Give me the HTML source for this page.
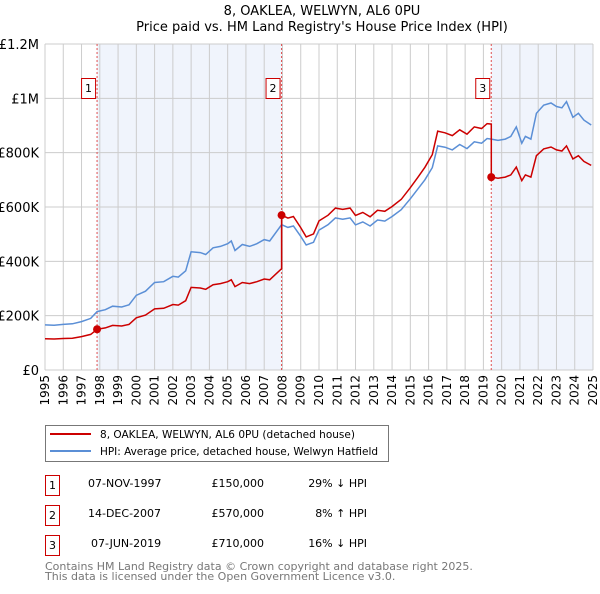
<!DOCTYPE html>
<html><head><meta charset="utf-8"><style>
body{margin:0;background:#fff;font-family:"DejaVu Sans","Liberation Sans",sans-serif;}
svg text{font-family:"DejaVu Sans","Liberation Sans",sans-serif;}
</style></head><body>
<svg id="c" width="600" height="590" xmlns="http://www.w3.org/2000/svg">
<text x="322" y="15" text-anchor="middle" font-size="13">8, OAKLEA, WELWYN, AL6 0PU</text>
<text x="322" y="31" text-anchor="middle" font-size="13">Price paid vs. HM Land Registry's House Price Index (HPI)</text>
<g id="plot"></g>
<g>
<rect x="45.5" y="425.5" width="343" height="36" fill="#fff" stroke="#777"/>
<line x1="50" y1="434" x2="91" y2="434" stroke="#cc0000" stroke-width="2"/>
<text x="100" y="438" font-size="10.5" textLength="255">8, OAKLEA, WELWYN, AL6 0PU (detached house)</text>
<line x1="50" y1="451" x2="91" y2="451" stroke="#5b8fd6" stroke-width="2"/>
<text x="100" y="455" font-size="10.5" textLength="278">HPI: Average price, detached house, Welwyn Hatfield</text>
</g>
<g font-size="11">
<rect x="45.5" y="475.5" width="14" height="20" fill="#fff" stroke="#cc0000"/><text x="52.5" y="489" text-anchor="middle">1</text>
<text x="88" y="487">07-NOV-1997</text><text x="264" y="487" text-anchor="end">£150,000</text><text x="367" y="487" text-anchor="end">29% ↓ HPI</text>
<rect x="45.5" y="505.5" width="14" height="20" fill="#fff" stroke="#cc0000"/><text x="52.5" y="519" text-anchor="middle">2</text>
<text x="88" y="517">14-DEC-2007</text><text x="264" y="517" text-anchor="end">£570,000</text><text x="367" y="517" text-anchor="end">8% ↑ HPI</text>
<rect x="45.5" y="535.5" width="14" height="20" fill="#fff" stroke="#cc0000"/><text x="52.5" y="549" text-anchor="middle">3</text>
<text x="91" y="547">07-JUN-2019</text><text x="264" y="547" text-anchor="end">£710,000</text><text x="367" y="547" text-anchor="end">16% ↓ HPI</text>
</g>
<text x="45" y="570" font-size="11" fill="#777">Contains HM Land Registry data © Crown copyright and database right 2025.</text>
<text x="45" y="580" font-size="11" fill="#777">This data is licensed under the Open Government Licence v3.0.</text>
</svg>
<script>
const hpiDates=[1995,1995.5,1996,1996.5,1997,1997.5,1997.85,1998.3,1998.7,1999.2,1999.6,2000,2000.5,2001,2001.5,2002,2002.3,2002.7,2003,2003.5,2003.8,2004.2,2004.6,2005,2005.2,2005.4,2005.8,2006.2,2006.6,2007,2007.3,2007.95,2008.3,2008.6,2009.0,2009.3,2009.7,2010.0,2010.5,2010.9,2011.3,2011.7,2012.0,2012.4,2012.8,2013.2,2013.6,2014.0,2014.5,2015.0,2015.4,2015.8,2016.2,2016.5,2016.9,2017.3,2017.7,2018.1,2018.5,2018.9,2019.2,2019.43,2019.8,2020.2,2020.5,2020.8,2021.1,2021.3,2021.6,2021.9,2022.3,2022.7,2023.0,2023.3,2023.55,2023.9,2024.2,2024.5,2024.9];
const hpiValues=[166,165,168,170,178,190,215,222,235,232,240,275,290,322,325,345,342,365,435,432,425,450,455,465,475,440,462,455,465,480,475,535,525,530,492,460,470,515,535,560,555,560,534,545,530,552,548,565,590,630,665,700,745,825,820,810,830,815,840,835,852,850,845,850,860,895,835,860,850,945,975,983,970,965,988,930,945,920,902];
const redDates=[1995,1995.5,1996,1996.5,1997,1997.5,1997.85,1998.3,1998.7,1999.2,1999.6,2000,2000.5,2001,2001.5,2002,2002.3,2002.7,2003,2003.5,2003.8,2004.2,2004.6,2005,2005.2,2005.4,2005.8,2006.2,2006.6,2007,2007.3,2007.95,2007.95,2008.3,2008.6,2009.0,2009.3,2009.7,2010.0,2010.5,2010.9,2011.3,2011.7,2012.0,2012.4,2012.8,2013.2,2013.6,2014.0,2014.5,2015.0,2015.4,2015.8,2016.2,2016.5,2016.9,2017.3,2017.7,2018.1,2018.5,2018.9,2019.2,2019.43,2019.43,2019.8,2020.2,2020.5,2020.8,2021.1,2021.3,2021.6,2021.9,2022.3,2022.7,2023.0,2023.3,2023.55,2023.9,2024.2,2024.5,2024.9];
const redValues=[115,114,116,117,123,131,150,155,164,162,168,192,202,225,227,241,239,255,304,302,297,314,318,325,332,307,322,318,325,335,332,373,570,559,565,524,490,501,549,570,596,591,596,569,580,564,588,584,602,628,671,708,746,793,879,873,863,884,868,895,889,907,905,710,706,710,718,747,697,718,710,789,814,821,810,806,825,777,789,768,753];
const saleDates=[1997.85,2007.95,2019.43];
const saleValues=[150,570,710];
const saleLabels=["1","2","3"];
const yTicks=[0,200,400,600,800,1000,1200];
const yTickLabels=["£0","£200K","£400K","£600K","£800K","£1M","£1.2M"];
const years=[1995,1996,1997,1998,1999,2000,2001,2002,2003,2004,2005,2006,2007,2008,2009,2010,2011,2012,2013,2014,2015,2016,2017,2018,2019,2020,2021,2022,2023,2024,2025];

const X0=45,X1=593,Y0=370,Y1=44;
const xs=d=>X0+(d-1995)/30*(X1-X0);
const ys=v=>Y0-v/1200*(Y0-Y1);
const NS="http://www.w3.org/2000/svg";
const g=document.getElementById('plot');
function mk(t,a){const e=document.createElementNS(NS,t);for(const k in a)e.setAttribute(k,a[k]);g.appendChild(e);return e;}
let e;
e=mk('rect',{x:xs(saleDates[0]),y:Y1,width:xs(saleDates[1])-xs(saleDates[0]),height:Y0-Y1,fill:'#f0f4fc'});


e=mk('rect',{x:xs(saleDates[2]),y:Y1,width:X1-xs(saleDates[2]),height:Y0-Y1,fill:'#f0f4fc'});


years.forEach(yr=>{
 e=mk('line',{x1:xs(yr),x2:xs(yr),y1:Y1,y2:Y0,stroke:'#ccc','stroke-width':1});
 
 
 e=mk('text',{x:0,y:0,'font-size':12,'text-anchor':'end',transform:`translate(${xs(yr)+4},375) rotate(-90)`});
 e.textContent=yr;
 
 
});
yTicks.forEach((v,i)=>{
 e=mk('line',{x1:X0,x2:X1,y1:ys(v),y2:ys(v),stroke:'#ccc','stroke-width':1});
 
 
 e=mk('text',{x:39,y:ys(v)+5,'font-size':13,'text-anchor':'end'});
 e.textContent=yTickLabels[i];
 
 
});
saleDates.forEach((d,i)=>{
 e=mk('line',{x1:xs(d),x2:xs(d),y1:Y1,y2:Y0,stroke:'#e05050','stroke-width':1,'stroke-dasharray':'2,2'});
 
 
});
const path=(D,V)=>D.map((d,i)=>(i?'L':'M')+xs(d).toFixed(1)+','+ys(V[i]).toFixed(1)).join('');
e=mk('path',{d:path(hpiDates,hpiValues),fill:'none',stroke:'#5b8fd6','stroke-width':1.5});


e=mk('path',{d:path(redDates,redValues),fill:'none',stroke:'#cc0000','stroke-width':1.5});


saleDates.forEach((d,i)=>{
 e=mk('circle',{cx:xs(d),cy:ys(saleValues[i]),r:4,fill:'#cc0000'});
 
 
 e=mk('rect',{x:xs(d)-15.5,y:78.5,width:14,height:20,fill:'#fff',stroke:'#cc0000'});
 
 
 e=mk('text',{x:xs(d)-8.5,y:92,'font-size':11,'text-anchor':'middle'});
 e.textContent=saleLabels[i];
 
 
});
</script>
</body></html>
